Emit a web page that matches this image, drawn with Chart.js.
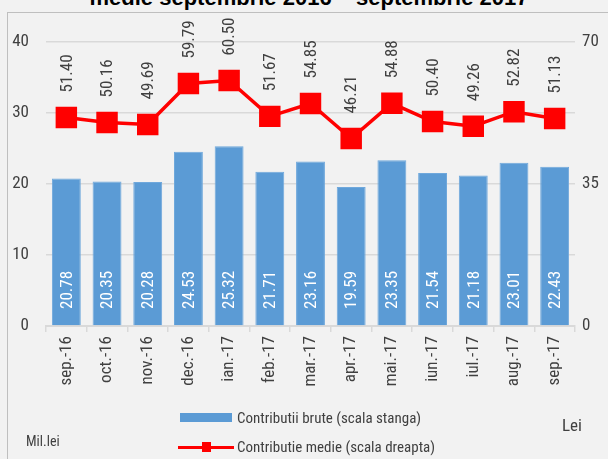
<!DOCTYPE html>
<html>
<head>
<meta charset="utf-8">
<script src="https://cdn.jsdelivr.net/npm/chart.js@4.4.1/dist/chart.umd.min.js"></script>
<style>
  body { margin: 0; background: #f2f2f2; font-family: "Roboto Condensed", "Liberation Sans", Arial, sans-serif; }
  #wrap { position: relative; width: 608px; height: 459px; overflow: hidden; background: #f2f2f2; }
  #frame { position: absolute; left: 7px; top: 12px; width: 620px; height: 470px; border: 1px solid #bfbfbf; }
  #title { position: absolute; left: 0; width: 618px; top: -13px; line-height: 22px; text-align: center; font-family: "Liberation Sans", Arial, sans-serif; font-weight: bold; font-size: 22px; color: #000; }
  #chart { position: absolute; left: 0; top: 0; }
  .note { position: absolute; font-size: 17px; line-height: 18px; color: #404040; }
  .legend-row { position: absolute; left: 178px; font-size: 15px; line-height: 18px; color: #404040; display: flex; align-items: center; }
  .legend-row .key { width: 56px; height: 14px; position: relative; margin-right: 3px; }
</style>
</head>
<body>
<div id="wrap">
  <div id="frame"></div>
  <div id="title">medie septembrie 2016 – septembrie 2017</div>
  <canvas id="chart" width="608" height="459"></canvas>
  <div class="legend-row" style="top: 409px;">
    <div class="key"><div style="position:absolute;left:2px;right:2px;top:2px;height:9px;background:#5b9bd5;"></div></div>
    <span>Contributii brute (scala stanga)</span>
  </div>
  <div class="legend-row" style="top: 438px;">
    <div class="key">
      <div style="position:absolute;left:0;right:0;top:6px;height:3px;background:#ff0000;"></div>
      <div style="position:absolute;left:24px;top:2px;width:9px;height:10px;background:#ff0000;"></div>
    </div>
    <span>Contributie medie (scala dreapta)</span>
  </div>
  <div class="note" style="left: 26px; top: 432px; font-size: 14px;">Mil.lei</div>
  <div class="note" style="left: 562px; top: 416px;">Lei</div>
</div>
<script>
const months = ["sep.-16", "oct.-16", "nov.-16", "dec.-16", "ian.-17", "feb.-17", "mar.-17",
  "apr.-17", "mai.-17", "iun.-17", "iul.-17", "aug.-17", "sep.-17"];
const grossContributions = [20.78, 20.35, 20.28, 24.53, 25.32, 21.71, 23.16, 19.59, 23.35, 21.54, 21.18, 23.01, 22.43];
const averageContribution = [51.40, 50.16, 49.69, 59.79, 60.50, 51.67, 54.85, 46.21, 54.88, 50.40, 49.26, 52.82, 51.13];
const leftTicks = [0, 10, 20, 30, 40];
const rightTicks = [0, 35, 70];

const textColor = "#404040";
const gridColor = "#d9d9d9";
const narrowFont = "'Roboto Condensed', 'Liberation Sans', Arial, sans-serif";

// labels for bars (white, inside) and line points (above)
const valueLabels = {
  id: "valueLabels",
  afterDatasetsDraw(chart) {
    const ctx = chart.ctx;
    const zeroY = chart.scales.y.getPixelForValue(0);
    ctx.font = "17px " + narrowFont;
    ctx.textBaseline = "middle";
    ctx.textAlign = "left";

    chart.getDatasetMeta(0).data.forEach((bar, i) => {
      ctx.save();
      ctx.translate(bar.x + 1, zeroY - 17);
      ctx.rotate(-Math.PI / 2);
      ctx.fillStyle = "#ffffff";
      ctx.fillText(grossContributions[i].toFixed(2), 0, 0);
      ctx.restore();
    });

    chart.getDatasetMeta(1).data.forEach((point, i) => {
      ctx.save();
      ctx.translate(point.x + 1, point.y - 25);
      ctx.rotate(-Math.PI / 2);
      ctx.fillStyle = textColor;
      ctx.fillText(averageContribution[i].toFixed(2), 0, 0);
      ctx.restore();
    });
  }
};

new Chart(document.getElementById("chart"), {
  type: "bar",
  data: {
    labels: months,
    datasets: [
      {
        type: "bar",
        label: "Contributii brute (scala stanga)",
        data: grossContributions,
        backgroundColor: "#5b9bd5",
        borderColor: "#6fa8dc",
        borderWidth: 1,
        barPercentage: 0.71,
        categoryPercentage: 1,
        yAxisID: "y",
        order: 2
      },
      {
        type: "line",
        label: "Contributie medie (scala dreapta)",
        data: averageContribution,
        borderColor: "#ff0000",
        backgroundColor: "#ff0000",
        borderWidth: 3.5,
        pointStyle: "rect",
        pointRadius: 12.7,
        pointHoverRadius: 12.7,
        tension: 0,
        yAxisID: "y1",
        order: 1
      }
    ]
  },
  options: {
    responsive: false,
    animation: false,
    layout: { padding: { left: 8, top: 42, right: 0, bottom: 58 } },
    plugins: {
      legend: { display: false },
      tooltip: { enabled: false }
    },
    scales: {
      x: {
        offset: true,
        grid: { offset: true, drawOnChartArea: false, color: gridColor, tickLength: 6, lineWidth: 1.5 },
        border: { color: gridColor, width: 2 },
        ticks: { minRotation: 90, maxRotation: 90, color: textColor, font: { family: narrowFont, size: 17 }, padding: 4 },
        afterFit(scale) { scale.height = 75; }
      },
      y: {
        position: "left",
        min: leftTicks[0],
        max: leftTicks[leftTicks.length - 1],
        afterBuildTicks(scale) { scale.ticks = leftTicks.map(v => ({ value: v })); },
        grid: { color: gridColor, lineWidth: 1.5, drawTicks: false },
        border: { display: false },
        ticks: { color: textColor, font: { family: narrowFont, size: 17 }, padding: 17 },
        afterFit(scale) { scale.width = 38; }
      },
      y1: {
        position: "right",
        min: rightTicks[0],
        max: rightTicks[rightTicks.length - 1],
        afterBuildTicks(scale) { scale.ticks = rightTicks.map(v => ({ value: v })); },
        grid: { display: false, drawTicks: false },
        border: { display: false },
        ticks: { color: textColor, font: { family: narrowFont, size: 17 }, padding: 7 },
        afterFit(scale) { scale.width = 33; }
      }
    }
  },
  plugins: [valueLabels]
});
</script>
</body>
</html>
